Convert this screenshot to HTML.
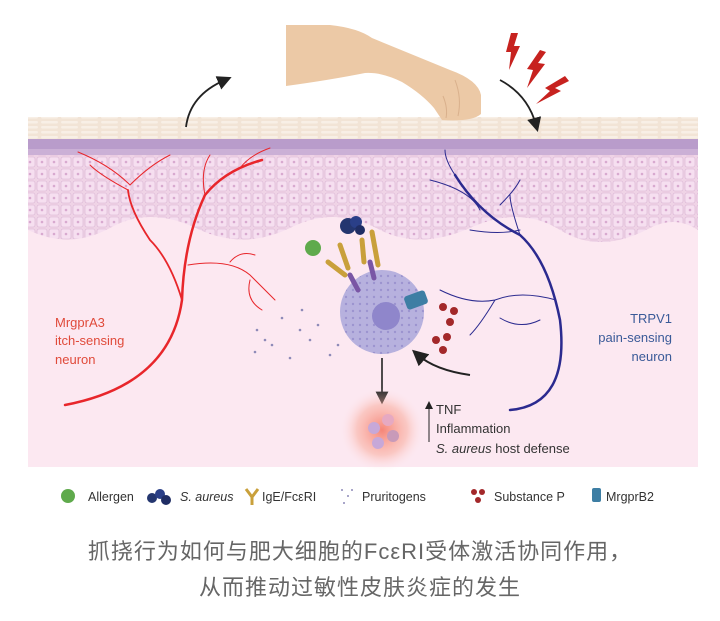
<!DOCTYPE html>
<html><head><meta charset="utf-8"><style>
body{margin:0;background:#fff;width:720px;height:621px;overflow:hidden;font-family:"Liberation Sans","Noto Sans CJK SC",sans-serif}
.cap{position:absolute;left:0;width:720px;text-align:center;font-size:22px;color:#666;letter-spacing:1px}
</style></head><body>
<svg width="720" height="621" style="position:absolute;left:0;top:0" xmlns="http://www.w3.org/2000/svg">
<defs>
<pattern id="cells" width="12" height="12" patternUnits="userSpaceOnUse">
<rect width="12" height="12" fill="#efd3e6"/><rect x="1" y="1" width="10" height="10" rx="2" fill="#f6dff0" stroke="#d9b3d3" stroke-width=".6"/><circle cx="6" cy="6" r="1.3" fill="#d8a9cf"/></pattern>
<pattern id="corn" width="20" height="5" patternUnits="userSpaceOnUse"><rect width="20" height="5" fill="#f2e4d6"/><rect x="1" y="1" width="17" height="2.5" rx="1.2" fill="#f8efe6"/></pattern>
<radialGradient id="glow"><stop offset="0" stop-color="#f57a6a" stop-opacity=".9"/><stop offset=".6" stop-color="#f9a795" stop-opacity=".5"/><stop offset="1" stop-color="#fde6ea" stop-opacity="0"/></radialGradient>
<pattern id="dots" width="7" height="7" patternUnits="userSpaceOnUse"><rect width="7" height="7" fill="#b7b1de"/><circle cx="3" cy="3" r="1.2" fill="#9c94cf"/></pattern>
<marker id="ar" markerWidth="8" markerHeight="8" refX="4" refY="4" orient="auto"><path d="M0,0L8,4L0,8z" fill="#222"/></marker>
</defs>
<rect x="28" y="117" width="670" height="350" fill="#fce8f1"/>
<path d="M28,150 H698 V230 Q675,215 650,228 Q600,255 560,230 Q520,205 470,228 Q420,250 380,230 Q335,205 290,228 Q245,250 200,230 Q150,205 110,228 Q70,250 28,230 Z" fill="url(#cells)"/>
<rect x="28" y="138" width="670" height="17" fill="#b99ccb"/>
<rect x="28" y="149" width="670" height="6" fill="#cbb0d6"/>
<rect x="28" y="117" width="670" height="22" fill="url(#corn)"/>
<!-- hand -->
<path d="M286,25 L330,25 Q358,28 372,38 L450,70 Q478,80 481,95 L481,114 Q472,122 442,120 L434,108 Q422,94 402,82 Q382,72 365,73 Q330,80 286,86 Z" fill="#ecc9a6"/>
<path d="M455,80 Q462,98 458,116 M443,96 Q448,108 446,118" stroke="#d9b08c" stroke-width="1" fill="none"/>
<path d="M186,127 Q190,95 225,80" fill="none" stroke="#222" stroke-width="1.8" marker-end="url(#ar)"/>
<path d="M500,80 Q528,95 536,125" fill="none" stroke="#222" stroke-width="1.8" marker-end="url(#ar)"/>
<g fill="#c7221f"><path d="M511,33 L518,33 L514,46 L520,46 L509,70 L511,52 L506,52z"/><path d="M540,50 L546,52 L538,63 L545,64 L527,88 L533,70 L527,69z"/><path d="M565,76 L569,81 L555,88 L561,91 L536,104 L550,91 L545,88z"/></g>
<g fill="none" stroke="#e8262b" stroke-linecap="round">
<path d="M65,405 Q170,385 182,300 Q184,240 205,195 Q225,170 262,160" stroke-width="2.5"/>
<path d="M182,300 Q170,260 150,240 Q130,210 128,190" stroke-width="1.8"/>
<path d="M130,185 Q110,165 78,152 M130,185 Q150,165 170,155 M205,195 Q200,170 210,155 M240,168 Q250,155 270,148 M128,190 Q100,175 90,165" stroke-width="1"/>
<path d="M188,265 Q230,258 250,275 Q265,290 275,300 M230,262 Q240,250 255,255 M250,280 Q245,300 262,310" stroke-width="1"/>
</g>
<g fill="none" stroke="#2b2a8f" stroke-linecap="round">
<path d="M510,410 Q570,405 560,320 Q548,260 520,235 Q480,215 455,175" stroke-width="2.5"/>
<path d="M520,235 Q510,205 510,195 M480,210 Q470,190 430,180 M455,175 Q445,160 445,150 M500,205 Q515,190 520,180 M470,230 Q500,235 520,230" stroke-width="1"/>
<path d="M556,300 Q520,290 495,300 Q470,305 440,290 M495,300 Q480,325 470,335 M540,320 Q520,330 500,318" stroke-width="1"/>
</g>
<circle cx="382" cy="312" r="42" fill="url(#dots)"/>
<circle cx="386" cy="316" r="14" fill="#8f86cb"/>
<g stroke="#c9a03b" stroke-width="5" fill="none" stroke-linecap="round"><path d="M328,262 L345,275 M340,245 L348,268 M362,240 L364,262 M372,232 L378,265"/></g>
<g stroke="#7a56a5" stroke-width="5" stroke-linecap="round"><path d="M350,275 L358,290 M370,262 L374,278"/></g>
<circle cx="348" cy="226" r="8" fill="#24366f"/><circle cx="356" cy="222" r="6" fill="#2a3f88"/><circle cx="360" cy="230" r="5" fill="#1f2d64"/>
<circle cx="313" cy="248" r="8" fill="#5faa4c"/>
<rect x="405" y="293" width="22" height="14" rx="3" fill="#3d7ea4" transform="rotate(-20 416 300)"/>
<g fill="#a3282a"><circle cx="443" cy="307" r="4"/><circle cx="454" cy="311" r="4"/><circle cx="450" cy="322" r="4"/><circle cx="436" cy="340" r="4"/><circle cx="447" cy="337" r="4"/><circle cx="443" cy="350" r="4"/></g>
<g fill="#8e8ab8"><circle cx="257" cy="330" r="1.3"/><circle cx="265" cy="340" r="1.3"/><circle cx="255" cy="352" r="1.3"/><circle cx="272" cy="345" r="1.3"/><circle cx="282" cy="318" r="1.3"/><circle cx="300" cy="330" r="1.3"/><circle cx="310" cy="340" r="1.3"/><circle cx="330" cy="355" r="1.3"/><circle cx="318" cy="325" r="1.3"/><circle cx="338" cy="345" r="1.3"/><circle cx="290" cy="358" r="1.3"/><circle cx="302" cy="310" r="1.3"/></g>
<path d="M470,375 Q435,370 418,355" fill="none" stroke="#222" stroke-width="2" marker-end="url(#ar)"/>
<path d="M382,358 L382,398" stroke="#222" stroke-width="1.6" marker-end="url(#ar)"/>
<circle cx="382" cy="430" r="42" fill="url(#glow)"/>
<g fill="#c7a8d8"><circle cx="374" cy="428" r="6"/><circle cx="388" cy="420" r="6" fill="#e6a9c2"/><circle cx="378" cy="443" r="6"/><circle cx="393" cy="436" r="6" fill="#c89ab9"/></g>
<path d="M429,442 V405" stroke="#222" stroke-width="1" marker-end="url(#ar)"/>
<g font-size="13" fill="#333"><text x="436" y="414">TNF</text><text x="436" y="433">Inflammation</text><text x="436" y="453"><tspan font-style="italic">S. aureus</tspan> host defense</text></g>
<g font-size="13" fill="#e04a3a"><text x="55" y="327">MrgprA3</text><text x="55" y="345">itch-sensing</text><text x="55" y="364">neuron</text></g>
<g font-size="13" fill="#3a5a98" text-anchor="end"><text x="672" y="323">TRPV1</text><text x="672" y="342">pain-sensing</text><text x="672" y="361">neuron</text></g>
<g font-size="12.5" fill="#333">
<circle cx="68" cy="496" r="7" fill="#5faa4c"/><text x="88" y="501">Allergen</text>
<circle cx="152" cy="498" r="5" fill="#24366f"/><circle cx="160" cy="494" r="5" fill="#2a3f88"/><circle cx="166" cy="500" r="5" fill="#1f2d64"/><text x="180" y="501" font-style="italic">S. aureus</text>
<path d="M246,489 L252,497 L258,489 M252,497 V505" stroke="#c9a03b" stroke-width="3" fill="none"/><text x="262" y="501">IgE/FcεRI</text>
<g fill="#8e8ab8"><circle cx="342" cy="490" r="1"/><circle cx="348" cy="496" r="1"/><circle cx="344" cy="503" r="1"/><circle cx="352" cy="490" r="1"/></g><text x="362" y="501">Pruritogens</text>
<circle cx="474" cy="492" r="3" fill="#a3282a"/><circle cx="482" cy="492" r="3" fill="#a3282a"/><circle cx="478" cy="500" r="3" fill="#a3282a"/><text x="494" y="501">Substance P</text>
<rect x="592" y="488" width="9" height="14" rx="2" fill="#3d7ea4"/><text x="606" y="501">MrgprB2</text>
</g>
</svg>
<div class="cap" style="top:534px">抓挠行为如何与肥大细胞的FcεRI受体激活协同作用，</div>
<div class="cap" style="top:570px">从而推动过敏性皮肤炎症的发生</div>
</body></html>
